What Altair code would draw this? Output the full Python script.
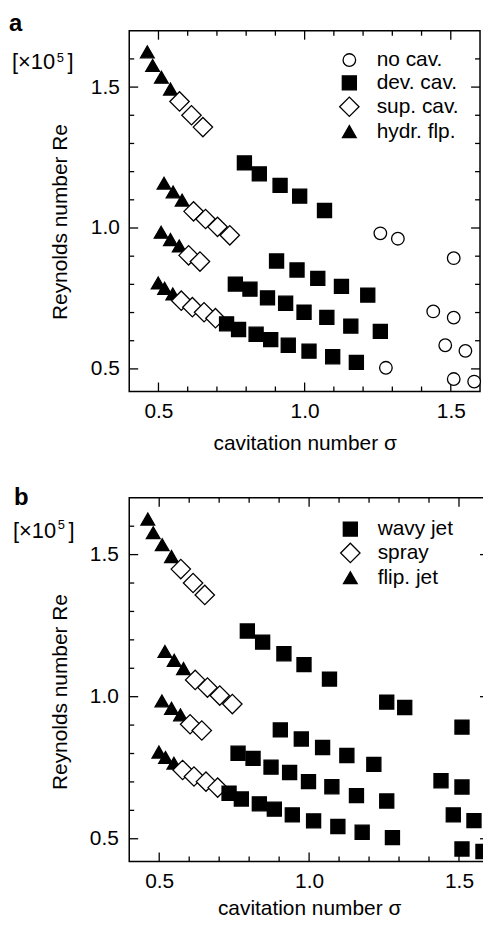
import altair as alt
import pandas as pd

# ---------------- data (sigma = cavitation number, re = Reynolds number [x1e5]) -------------
hydr_sigma = [0.462, 0.480, 0.510, 0.541, 0.519, 0.550, 0.581, 0.509, 0.541, 0.571, 0.499, 0.521, 0.549]
hydr_re = [1.625, 1.577, 1.535, 1.493, 1.159, 1.128, 1.099, 0.985, 0.959, 0.936, 0.805, 0.786, 0.766]

sup_sigma = [0.572, 0.613, 0.652, 0.620, 0.661, 0.702, 0.744, 0.603, 0.642, 0.578, 0.616, 0.656, 0.695]
sup_re = [1.449, 1.400, 1.358, 1.059, 1.032, 1.004, 0.974, 0.903, 0.881, 0.742, 0.719, 0.701, 0.680]

dev_sigma = [0.794, 0.845, 0.916, 0.983, 1.068,
             0.904, 0.974, 1.045, 1.126, 1.216,
             0.763, 0.813, 0.873, 0.935, 0.998, 1.076, 1.158, 1.259,
             0.733, 0.774, 0.834, 0.884, 0.944, 1.015, 1.096, 1.177]
dev_re = [1.231, 1.192, 1.151, 1.113, 1.062,
          0.883, 0.851, 0.821, 0.793, 0.762,
          0.801, 0.783, 0.752, 0.733, 0.701, 0.683, 0.652, 0.633,
          0.660, 0.640, 0.623, 0.604, 0.584, 0.563, 0.543, 0.523]

nocav_sigma = [1.259, 1.319, 1.510, 1.440, 1.510, 1.481, 1.550, 1.278, 1.510, 1.580]
nocav_re = [0.981, 0.962, 0.893, 0.704, 0.682, 0.584, 0.564, 0.504, 0.464, 0.455]

cats_a = ["no cav.", "dev. cav.", "sup. cav.", "hydr. flp."]
cats_b = ["wavy jet", "spray", "flip. jet"]

x_major = [0.5, 1.0, 1.5]
x_minor = [0.6, 0.7, 0.8, 0.9, 1.1, 1.2, 1.3, 1.4]
y_major = [0.5, 1.0, 1.5]
y_minor = [0.6, 0.7, 0.8, 0.9, 1.1, 1.2, 1.3, 1.4, 1.6]
x_domain = [0.4, 1.6]
y_domain = [0.42, 1.70]

FONT = "Liberation Sans"


def make_df(field, groups):
    rows = []
    for cat, xs, ys in groups:
        for s, r in zip(xs, ys):
            rows.append({"sigma": s, "re": r, field: cat})
    return pd.DataFrame(rows)


df_a = make_df("regime_a", [("hydr. flp.", hydr_sigma, hydr_re),
                            ("sup. cav.", sup_sigma, sup_re),
                            ("dev. cav.", dev_sigma, dev_re),
                            ("no cav.", nocav_sigma, nocav_re)])
df_b = make_df("regime_b", [("flip. jet", hydr_sigma, hydr_re),
                            ("spray", sup_sigma, sup_re),
                            ("wavy jet", dev_sigma, dev_re),
                            ("wavy jet", nocav_sigma, nocav_re)])


def text_layer(txt, x, y, size, weight="normal"):
    return alt.Chart(pd.DataFrame({"s": [txt]})).mark_text(
        align="left", baseline="alphabetic", font=FONT, fontSize=size,
        fontWeight=weight, color="black"
    ).encode(x=alt.value(x), y=alt.value(y), text="s:N")


def panel(df, field, cats, shapes, fills, sizes, W, H, legend_xy, letter, letter_xy,
          exp_xy, ylab_pad, xtitle_y, ytitle_y):
    xs = alt.Scale(domain=x_domain, nice=False, zero=False)
    ys = alt.Scale(domain=y_domain, nice=False, zero=False)
    x_axis = alt.Axis(values=x_major, format=".1f", ticks=False, tickSize=0, domain=False,
                      grid=False, labelFont=FONT, labelFontSize=21, labelPadding=9,
                      labelColor="black", title="cavitation number σ", titleFont=FONT,
                      titleFontSize=21, titleFontWeight="normal", titleColor="black",
                      titleBaseline="alphabetic", titleY=xtitle_y)
    y_axis = alt.Axis(values=y_major, format=".1f", ticks=False, tickSize=0, domain=False,
                      grid=False, labelFont=FONT, labelFontSize=21, labelPadding=ylab_pad,
                      labelColor="black", title="Reynolds number Re", titleFont=FONT,
                      titleFontSize=21, titleFontWeight="normal", titleColor="black",
                      titleAngle=270, titleBaseline="bottom", titleAlign="center",
                      titleX=-59, titleY=ytitle_y)

    def ticks(vals, orient, L):
        base = alt.Chart(pd.DataFrame({"t": vals})).mark_rule(color="black", strokeWidth=1.3)
        if orient == "bottom":
            return base.encode(x=alt.X("t:Q", scale=xs, axis=x_axis), y=alt.value(H), y2=alt.value(H - L))
        if orient == "top":
            return base.encode(x=alt.X("t:Q", scale=xs, axis=x_axis), y=alt.value(0), y2=alt.value(L))
        if orient == "left":
            return base.encode(y=alt.Y("t:Q", scale=ys, axis=y_axis), x=alt.value(0), x2=alt.value(L))
        return base.encode(y=alt.Y("t:Q", scale=ys, axis=y_axis), x=alt.value(W), x2=alt.value(W - L))

    leg = alt.Legend(title=None, orient="none", legendX=legend_xy[0], legendY=legend_xy[1],
                     labelFont=FONT, labelFontSize=21, labelColor="black", labelOffset=17,
                     rowPadding=1, padding=0, symbolStrokeWidth=1.3, symbolOpacity=1)
    pts = alt.Chart(df).mark_point(filled=True, opacity=1, strokeWidth=1.3).encode(
        x=alt.X("sigma:Q", scale=xs, axis=x_axis),
        y=alt.Y("re:Q", scale=ys, axis=y_axis),
        shape=alt.Shape(f"{field}:N", scale=alt.Scale(domain=cats, range=shapes), legend=leg),
        fill=alt.Fill(f"{field}:N", scale=alt.Scale(domain=cats, range=fills), legend=leg),
        stroke=alt.Stroke(f"{field}:N", scale=alt.Scale(domain=cats, range=["black"] * len(cats)),
                          legend=leg),
        size=alt.Size(f"{field}:N", scale=alt.Scale(type="ordinal", domain=cats, range=sizes),
                      legend=leg),
    )
    x0, yb, ys5 = exp_xy
    layers = [
        ticks(x_major, "bottom", 9), ticks(x_minor, "bottom", 5),
        ticks(x_major, "top", 9), ticks(x_minor, "top", 5),
        ticks(y_major, "left", 9), ticks(y_minor, "left", 5),
        ticks(y_major, "right", 9), ticks(y_minor, "right", 5),
        pts,
        text_layer(letter, letter_xy[0], letter_xy[1], 24, "bold"),
        text_layer("[×10", x0, yb, 22),
        text_layer("5", x0 + 45, ys5, 13),
        text_layer("]", x0 + 56, yb, 22),
    ]
    return alt.layer(*layers).properties(width=W, height=H)


panel_a = panel(df_a, "regime_a", cats_a,
                ["circle", "square", "diamond", "triangle-up"],
                ["white", "black", "white", "black"],
                [160, 200, 380, 190],
                353, 363, (211, 19), "a", (-121, 0), (-118, 39, 31), 10, 58, 192)

panel_b = panel(df_b, "regime_b", cats_b,
                ["square", "diamond", "triangle-up"],
                ["black", "white", "black"],
                [200, 380, 190],
                362, 366, (212, 21), "b", (-116, 7), (-117, 40, 31), 11, 53, 195)

chart = alt.vconcat(panel_a, panel_b, spacing=31).resolve_scale(
    x="independent", y="independent", shape="independent", fill="independent",
    stroke="independent", size="independent"
).properties(padding={"left": 0, "top": 0, "right": -11, "bottom": -4}).configure_view(
    stroke="black", strokeWidth=1.5)

chart.save("out.html", embed_options={"renderer": "svg", "actions": False})
